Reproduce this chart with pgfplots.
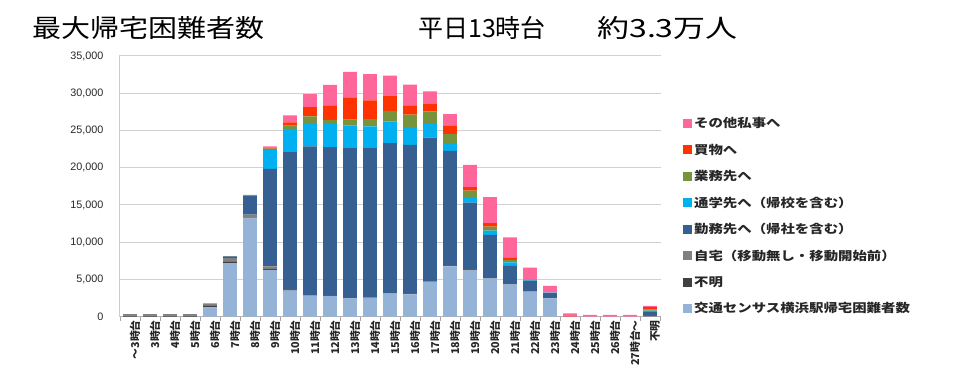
\documentclass[border=0pt]{standalone}
\usepackage{pgfplots}
\pgfplotsset{compat=1.18}
\usepackage{pgfplotstable}
\usepackage{fontspec}
\setmainfont{Liberation Sans}
\newfontfamily\cjk{Noto Sans CJK JP}
\newfontfamily\cjkwide{Noto Sans CJK JP}[FakeStretch=1.2]
\definecolor{cCensus}{RGB}{149,179,215}
\definecolor{cUnk}{RGB}{64,64,64}
\definecolor{cHome}{RGB}{128,128,128}
\definecolor{cWork}{RGB}{54,96,146}
\definecolor{cSchool}{RGB}{0,176,240}
\definecolor{cBiz}{RGB}{119,147,60}
\definecolor{cShop}{RGB}{255,51,0}
\definecolor{cOther}{RGB}{255,102,153}
\pgfplotstableread{
x census unk home work school biz shop other
0 0 150 200 0 0 0 0 0
1 0 150 200 0 0 0 0 0
2 0 150 200 0 0 0 0 0
3 0 150 200 0 0 0 0 0
4 1250 200 350 0 0 0 0 0
5 7200 150 500 250 0 30 0 0
6 13200 100 400 2560 0 100 0 0
7 6300 100 350 13100 2550 150 150 150
8 3500 50 50 18590 3010 450 450 940
9 2800 0 50 20000 3050 980 1260 1750
10 2750 0 50 19970 3130 540 1920 2780
11 2450 0 50 20140 3000 810 3000 3410
12 2500 0 50 20080 2910 990 2510 3540
13 3100 0 50 20150 2900 1430 2060 2690
14 3000 0 50 20030 2380 1660 1250 2780
15 4650 0 50 19350 1840 1660 990 1700
16 6750 0 60 15460 940 1300 1120 1570
17 6200 0 80 9050 580 1030 450 3000
18 5100 0 60 5820 580 540 450 3490
19 4300 0 50 2460 490 310 360 2690
20 3360 0 0 1470 100 0 0 1650
21 2470 0 0 700 60 0 0 900
22 0 0 0 0 0 0 50 400
23 0 0 0 0 0 0 0 250
24 0 0 0 0 0 0 0 250
25 0 0 0 0 0 0 0 250
26 0 0 100 600 100 150 350 150
}\data
\begin{document}
\begin{tikzpicture}
\path[use as bounding box] (0pt,0pt) rectangle (961pt,385pt);
\node[anchor=west, inner sep=0pt, xscale=1.16, transform shape, font=\cjk\fontsize{25}{25}\selectfont] at (32pt,357pt) {最大帰宅困難者数};
\node[anchor=west, inner sep=0pt, font=\cjk\fontsize{25}{25}\selectfont] at (418pt,357pt) {平日13時台};
\node[anchor=west, inner sep=0pt, xscale=1.28, transform shape, font=\cjk\fontsize{25}{25}\selectfont] at (597pt,357pt) {約3.3万人};
\begin{axis}[
  at={(119pt,68.3pt)}, anchor=south west,
  scale only axis, width=542pt, height=260.7pt,
  ybar stacked, bar width=0.68,
  xmin=-0.55, xmax=26.55, ymin=0, ymax=35000,
  axis x line*=bottom, axis y line*=left,
  x axis line style={draw=black!30, line width=0.8pt},
  y axis line style={draw=black!20, line width=0.8pt},
  ytick={0,5000,...,35000}, scaled y ticks=false,
  ymajorgrids, grid style={draw=black!18, line width=1pt},
  major tick length=0pt,
  minor xtick={-0.5,0.5,...,26.5},
  minor tick length=4pt, tick align=outside,
  minor x tick style={draw=black!35, line width=0.6pt},
  xtick={0,...,26},
  xticklabels={～3時台,3時台,4時台,5時台,6時台,7時台,8時台,9時台,10時台,11時台,12時台,13時台,14時台,15時台,16時台,17時台,18時台,19時台,20時台,21時台,22時台,23時台,24時台,25時台,26時台,27時台～,不明},
  xticklabel style={rotate=90, anchor=east, font=\cjk\bfseries\fontsize{10.8}{10.8}\selectfont, text=black!85, yshift=-5pt},
  yticklabel style={font=\fontsize{10.8}{10.8}\selectfont, text=black!85, xshift=-12pt},
  /pgf/number format/.cd, 1000 sep={,}, assume math mode=true,
  /pgfplots/.cd,
  legend style={at={(1.035,0.78)}, anchor=north west, draw=none, fill=none,
    font=\cjkwide\bfseries\fontsize{12}{12}\selectfont, text=black!85, row sep=10.7pt},
  legend cell align=left, reverse legend,
  legend image code/.code={\fill[#1,draw=none] (0pt,-4.5pt) rectangle (9pt,4.5pt);},
]
\addplot[fill=cCensus, draw=none] table[x=x,y=census]{\data};
\addlegendentry{交通センサス横浜駅帰宅困難者数}
\addplot[fill=cUnk, draw=none] table[x=x,y=unk]{\data};
\addlegendentry{不明}
\addplot[fill=cHome, draw=none] table[x=x,y=home]{\data};
\addlegendentry{自宅（移動無し・移動開始前）}
\addplot[fill=cWork, draw=none] table[x=x,y=work]{\data};
\addlegendentry{勤務先へ（帰社を含む）}
\addplot[fill=cSchool, draw=none] table[x=x,y=school]{\data};
\addlegendentry{通学先へ（帰校を含む）}
\addplot[fill=cBiz, draw=none] table[x=x,y=biz]{\data};
\addlegendentry{業務先へ}
\addplot[fill=cShop, draw=none] table[x=x,y=shop]{\data};
\addlegendentry{買物へ}
\addplot[fill=cOther, draw=none] table[x=x,y=other]{\data};
\addlegendentry{その他私事へ}
\end{axis}
\end{tikzpicture}
\end{document}
